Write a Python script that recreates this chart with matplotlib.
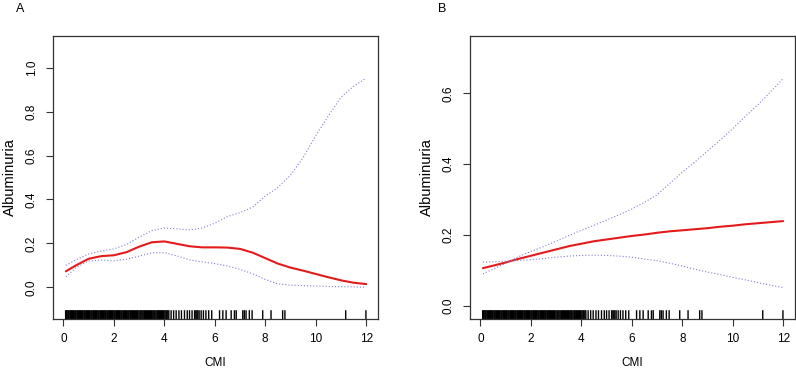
import numpy as np
import matplotlib
matplotlib.use("Agg")
import matplotlib.pyplot as plt

plt.rcParams['font.family'] = ['Liberation Sans', 'DejaVu Sans']

# curve grid (CMI)
cmi = [0.1, 0.5, 1.0, 1.5, 2.0, 2.5, 3.0, 3.5, 4.0, 4.5, 5.0, 5.5, 6.0,
       6.5, 7.0, 7.5, 8.0, 8.5, 9.0, 9.5, 10.0, 10.5, 11.0, 11.5, 12.0]

# panel A: smooth fit and 95% CI
fit_a = [0.073, 0.100, 0.130, 0.142, 0.146, 0.160, 0.185, 0.205, 0.209, 0.198, 0.187, 0.182, 0.182,
         0.181, 0.175, 0.158, 0.133, 0.108, 0.090, 0.076, 0.061, 0.046, 0.032, 0.021, 0.015]
upper_a = [0.100, 0.125, 0.152, 0.165, 0.175, 0.195, 0.228, 0.258, 0.270, 0.266, 0.262, 0.270, 0.292,
           0.322, 0.340, 0.365, 0.415, 0.455, 0.510, 0.590, 0.690, 0.780, 0.865, 0.915, 0.952]
lower_a = [0.048, 0.090, 0.120, 0.124, 0.121, 0.128, 0.142, 0.157, 0.158, 0.143, 0.125, 0.116, 0.108,
           0.097, 0.082, 0.062, 0.036, 0.016, 0.010, 0.008, 0.006, 0.004, 0.003, 0.002, 0.001]

# panel B: linear-ish fit and 95% CI
fit_b = [0.106, 0.113, 0.122, 0.132, 0.141, 0.150, 0.159, 0.168, 0.175, 0.182, 0.187, 0.192, 0.197,
         0.201, 0.206, 0.210, 0.213, 0.216, 0.219, 0.223, 0.226, 0.230, 0.233, 0.236, 0.239]
upper_b = [0.090, 0.103, 0.120, 0.138, 0.153, 0.167, 0.182, 0.198, 0.213, 0.227, 0.242, 0.257, 0.273,
           0.292, 0.313, 0.345, 0.377, 0.406, 0.437, 0.468, 0.500, 0.535, 0.568, 0.604, 0.642]
lower_b = [0.123, 0.124, 0.126, 0.128, 0.130, 0.133, 0.137, 0.140, 0.142, 0.143, 0.142, 0.140, 0.137,
           0.132, 0.127, 0.120, 0.112, 0.103, 0.095, 0.088, 0.080, 0.073, 0.065, 0.058, 0.051]

# observed CMI values (rug)
rug = [0.09, 0.12, 0.15, 0.19, 0.22, 0.26, 0.29, 0.33, 0.36, 0.40, 0.43, 0.47, 0.50, 0.54, 0.57,
       0.61, 0.64, 0.68, 0.71, 0.75, 0.78, 0.82, 0.85, 0.89, 0.92, 0.96, 0.99, 1.03, 1.06, 1.10,
       1.13, 1.17, 1.20, 1.24, 1.27, 1.31, 1.34, 1.38, 1.41, 1.45, 1.48, 1.52, 1.55, 1.59, 1.62,
       1.66, 1.69, 1.73, 1.76, 1.80, 1.83, 1.87, 1.90, 1.94, 1.97, 2.01, 2.04, 2.08, 2.11, 2.15,
       2.18, 2.22, 2.25, 2.29, 2.32, 2.36, 2.39, 2.43, 2.46, 2.50, 2.53, 2.57, 2.60, 2.64, 2.67,
       2.71, 2.74, 2.78, 2.82, 2.85, 2.89, 2.93, 2.96, 3.00, 3.04, 3.07, 3.11, 3.15, 3.19, 3.22,
       3.26, 3.30, 3.33, 3.37, 3.41, 3.45, 3.49, 3.52, 3.56, 3.60, 3.63, 3.67, 3.71, 3.74, 3.78,
       3.81, 3.85, 3.89, 3.92, 3.96, 3.99, 4.03, 4.07, 4.10, 4.14, 4.18, 4.27, 4.37, 4.47, 4.58,
       4.68, 4.80, 4.91, 5.00, 5.10, 5.20, 5.25, 5.29, 5.33, 5.38, 5.46, 5.55, 5.65, 5.76, 5.88,
       6.19, 6.32, 6.45, 6.65, 6.78, 6.85, 7.11, 7.17, 7.24, 7.37, 7.48, 7.90, 8.23, 8.69, 8.78,
       11.19, 11.99]

fig = plt.figure(figsize=(7.96, 3.72), dpi=100)
ax_a = fig.add_axes([0.0666, 0.1425, 0.4083, 0.7608])
ax_b = fig.add_axes([0.5905, 0.1425, 0.4083, 0.7608])


def panel(ax, fit, upper, lower, ylim, yticks, letter, letter_x):
    ax.plot(cmi, fit, color='#e41a1c', lw=1.5, solid_capstyle='round')
    ax.plot(cmi, upper, color='#7f7fd0', lw=0.8, ls=(0, (1, 1.8)))
    ax.plot(cmi, lower, color='#7f7fd0', lw=0.8, ls=(0, (1, 1.8)))
    rl = ax.vlines(rug, 0, 0.031, transform=ax.get_xaxis_transform(), color='black', lw=1.0)
    rl.set_snap(False)
    ax.set_xlim(-0.41, 12.47)
    ax.set_ylim(*ylim)
    ax.set_xticks([0, 2, 4, 6, 8, 10, 12])
    ax.set_yticks(yticks)
    ax.set_yticklabels(['%.1f' % v for v in yticks], rotation=90, va='center')
    ax.tick_params(direction='out', length=5, width=0.8, labelsize=8.5, color='#333333')
    ax.tick_params(axis='x', pad=5)
    ax.tick_params(axis='y', pad=6)
    for s in ax.spines.values():
        s.set_linewidth(0.9)
        s.set_color('#333333')
    ax.set_xlabel('CMI', fontsize=8.5)
    ax.xaxis.set_label_coords(0.5, -0.135)
    ax.set_ylabel('Albuminuria', fontsize=10.5)
    ax.yaxis.set_label_coords(-0.112, 0.5)
    fig.text(letter_x, 0.968, letter, fontsize=9, va='baseline', ha='left')


panel(ax_a, fit_a, upper_a, lower_a, (-0.144, 1.144), [0.0, 0.2, 0.4, 0.6, 0.8, 1.0], 'A', 0.02)
panel(ax_b, fit_b, upper_b, lower_b, (-0.0376, 0.762), [0.0, 0.2, 0.4, 0.6], 'B', 0.55)

fig.savefig('out.png', dpi=100)
